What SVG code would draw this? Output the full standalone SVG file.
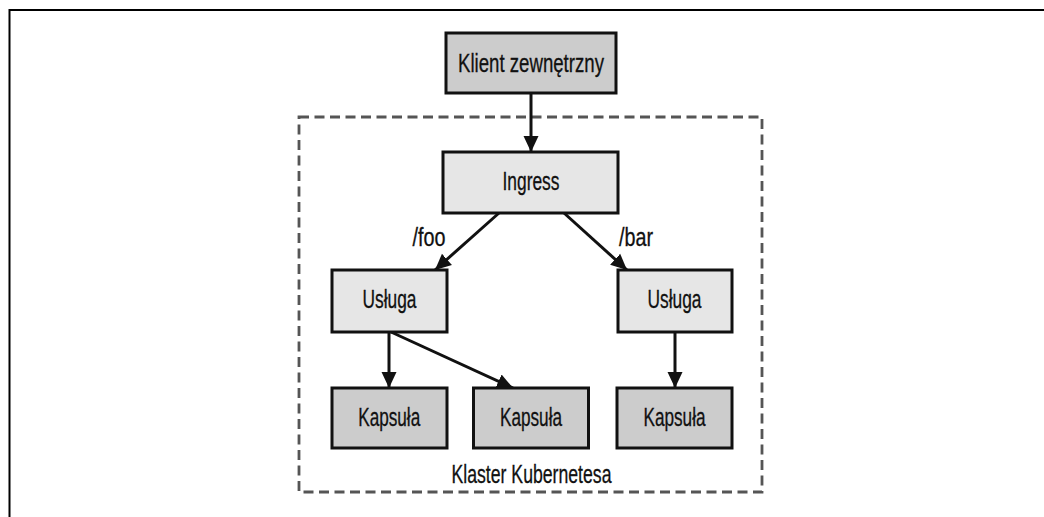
<svg xmlns="http://www.w3.org/2000/svg" width="1044" height="517" viewBox="0 0 1044 517">
<style>
text{font-family:"Liberation Sans",Arial,sans-serif;font-size:25px;fill:#111;stroke:#111;stroke-width:0.3}
.dark{fill:#cccccc;stroke:#111;stroke-width:3}
.light{fill:#e6e6e6;stroke:#111;stroke-width:3}
.edge{stroke:#111;stroke-width:3;fill:none;marker-end:url(#arrow)}
</style>
<defs>
<marker id="arrow" markerUnits="userSpaceOnUse" markerWidth="17" markerHeight="16" refX="16" refY="8" orient="auto" viewBox="0 0 17 16">
<path d="M0,0.5 L16,8 L0,15.5 z" fill="#111"/>
</marker>
</defs>
<rect width="1044" height="517" fill="#fff"/>
<path d="M9.5 517 V10 H1044" fill="none" stroke="#000" stroke-width="2"/>
<g id="cluster">
<rect x="299" y="117" width="463" height="375" fill="none" stroke="#555" stroke-width="2.8" stroke-dasharray="10 5.5"/>
<text x="531.5" y="483" text-anchor="middle" textLength="160" lengthAdjust="spacingAndGlyphs">Klaster Kubernetesa</text>
</g>
<g id="connectors">
<line class="edge" x1="531" y1="93" x2="531" y2="152"/>
<line class="edge" x1="499" y1="213" x2="435" y2="270"/>
<line class="edge" x1="564" y1="213" x2="627" y2="270"/>
<line class="edge" x1="389" y1="332" x2="389" y2="388"/>
<line class="edge" x1="391" y1="332" x2="513" y2="388"/>
<line class="edge" x1="675" y1="332" x2="675" y2="388"/>
<text x="429" y="246" text-anchor="middle" textLength="33" lengthAdjust="spacingAndGlyphs">/foo</text>
<text x="636" y="246" text-anchor="middle" textLength="34" lengthAdjust="spacingAndGlyphs">/bar</text>
</g>
<g id="klient">
<rect class="dark" x="446" y="33" width="170" height="60"/>
<text x="531" y="71.5" text-anchor="middle" textLength="146" lengthAdjust="spacingAndGlyphs">Klient zewnętrzny</text>
</g>
<g id="ingress">
<rect class="light" x="443" y="152" width="175" height="61"/>
<text x="531" y="190" text-anchor="middle" textLength="57" lengthAdjust="spacingAndGlyphs">Ingress</text>
</g>
<g id="usluga-left">
<rect class="light" x="332" y="270" width="115" height="62"/>
<text x="389.5" y="308" text-anchor="middle" textLength="54" lengthAdjust="spacingAndGlyphs">Usługa</text>
</g>
<g id="usluga-right">
<rect class="light" x="618" y="270" width="114" height="62"/>
<text x="674.5" y="308" text-anchor="middle" textLength="54" lengthAdjust="spacingAndGlyphs">Usługa</text>
</g>
<g id="kapsula-1">
<rect class="dark" x="332" y="388" width="115" height="60"/>
<text x="389.2" y="426" text-anchor="middle" textLength="62" lengthAdjust="spacingAndGlyphs">Kapsuła</text>
</g>
<g id="kapsula-2">
<rect class="dark" x="473.5" y="388" width="115" height="60"/>
<text x="531" y="426" text-anchor="middle" textLength="62" lengthAdjust="spacingAndGlyphs">Kapsuła</text>
</g>
<g id="kapsula-3">
<rect class="dark" x="617" y="388" width="115" height="60"/>
<text x="674.5" y="426" text-anchor="middle" textLength="62" lengthAdjust="spacingAndGlyphs">Kapsuła</text>
</g>
</svg>
